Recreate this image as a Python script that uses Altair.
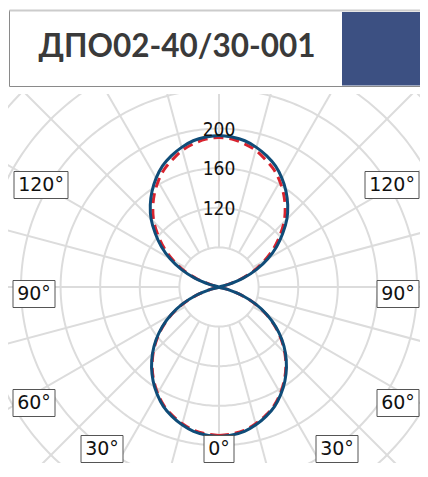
import math
import altair as alt
import pandas as pd

# ---------------- data ----------------
TITLE = "ДПО02-40/30-001"

ANGLES = list(range(0, 95, 5))  # degrees from the nadir (lower lobe) / zenith (upper lobe)
BLUE_LOWER = [191, 190, 188, 184, 179, 173, 165, 156, 146, 135, 123, 110, 96, 81, 65, 49, 33, 17, 0]
BLUE_UPPER = [193, 192, 190, 186, 181, 175, 167, 158, 148, 137, 124, 111, 97, 82, 66, 50, 34, 17, 0]
RED_LOWER = [190, 189, 187, 183, 178, 172, 164, 155, 145, 134, 122, 109, 95, 80, 64, 48, 32, 16, 0]
RED_UPPER = [191, 190, 187, 183, 177, 171, 163, 154, 144, 133, 120, 107, 93, 79, 63, 47, 31, 16, 0]

RING_VALUES = [80, 120, 160, 200, 240, 280, 320]
RING_LABELS = [120, 160, 200]
SPOKE_ANGLES = list(range(0, 360, 15))

ANGLE_LABELS = ["0°", "30°", "30°", "60°", "60°", "90°", "90°", "120°", "120°"]

# ---------------- layout (page pixels) ----------------
RADIAL_MIN = 40
PX_PER_UNIT = 0.99
CENTER_PAGE = (219, 287)
PAGE_OFFSET = 8
TITLE_H = 86
W = 412
POLAR_H = 369
LABEL_PAGE_POS = [(219, 449), (102, 449), (337, 449), (34, 403), (398, 403),
                  (34, 294), (398, 294), (41, 185), (392, 185)]


def polar_xy(value, theta_deg):
    r = max(value - RADIAL_MIN, 0) * PX_PER_UNIT
    t = math.radians(theta_deg)
    return r * math.sin(t), -r * math.cos(t)


def curve_points(lower, upper):
    pts = []
    for a, v in zip(ANGLES, lower):
        pts.append((a, v))
    for a, v in reversed(list(zip(ANGLES, upper))):
        pts.append((180 - a, v))
    full = pts + [(360 - a, v) for a, v in reversed(pts)]
    rows = []
    last = None
    for i, (a, v) in enumerate(full):
        x, y = polar_xy(v, a)
        key = (round(x, 3), round(y, 3))
        if key == last:
            continue
        last = key
        rows.append({"x": x, "y": y, "o": i})
    return pd.DataFrame(rows)


blue_df = curve_points(BLUE_LOWER, BLUE_UPPER)
red_df = curve_points(RED_LOWER, RED_UPPER)

ring_rows = []
for rv in RING_VALUES:
    for k in range(0, 361):
        x, y = polar_xy(rv, k)
        ring_rows.append({"ring": rv, "x": x, "y": y, "o": k})
ring_df = pd.DataFrame(ring_rows)

spoke_rows = []
for a in SPOKE_ANGLES:
    for j, rv in enumerate([RING_VALUES[0], 400]):
        x, y = polar_xy(rv, a)
        spoke_rows.append({"spoke": a, "x": x, "y": y, "o": j})
spoke_df = pd.DataFrame(spoke_rows)

rl_rows = []
for v in RING_LABELS:
    x, y = polar_xy(v, 180)
    rl_rows.append({"label": str(v), "x": x, "y": y})
rl_df = pd.DataFrame(rl_rows)

lab_rows = []
for txt, (px, py) in zip(ANGLE_LABELS, LABEL_PAGE_POS):
    x = px - CENTER_PAGE[0]
    y = CENTER_PAGE[1] - py
    bw = 12 * len(txt) + 6
    lab_rows.append({"label": txt, "x": x, "y": y,
                     "x0": x - bw / 2, "x1": x + bw / 2, "y0": y - 13.5, "y1": y + 13.5})
lab_df = pd.DataFrame(lab_rows)

# scales: 1 data unit = 1 px, centred on the pole
x_left = PAGE_OFFSET - CENTER_PAGE[0]
x_right = x_left + W
y_top = CENTER_PAGE[1] - (PAGE_OFFSET + TITLE_H)
y_bottom = y_top - POLAR_H
xs = alt.Scale(domain=[x_left, x_right], nice=False, zero=False)
ys = alt.Scale(domain=[y_bottom, y_top], nice=False, zero=False)
X = alt.X("x:Q", scale=xs, axis=None)
Y = alt.Y("y:Q", scale=ys, axis=None)

GRID = "#dcdcdc"

rings = alt.Chart(ring_df).mark_line(clip=True, color=GRID, strokeWidth=2).encode(
    x=X, y=Y, detail="ring:N", order="o:Q")
spokes = alt.Chart(spoke_df).mark_line(clip=True, color=GRID, strokeWidth=2).encode(
    x=X, y=Y, detail="spoke:N", order="o:Q")
red = alt.Chart(red_df).mark_line(clip=True, color="#d8232e", strokeWidth=3,
                                  strokeDash=[10, 6], interpolate="cardinal").encode(
    x=X, y=Y, order="o:Q")
blue = alt.Chart(blue_df).mark_line(clip=True, color="#0f4c78", strokeWidth=3,
                                    interpolate="cardinal").encode(
    x=X, y=Y, order="o:Q")
rlabels = alt.Chart(rl_df).mark_text(font="DejaVu Sans Condensed", fontSize=19,
                                     color="#111111", baseline="middle", dy=1).encode(
    x=X, y=Y, text="label:N")
boxes = alt.Chart(lab_df).mark_rect(fill="white", stroke="#555555", strokeWidth=1).encode(
    x=alt.X("x0:Q", scale=xs, axis=None), x2="x1:Q",
    y=alt.Y("y0:Q", scale=ys, axis=None), y2="y1:Q")
btext = alt.Chart(lab_df).mark_text(font="DejaVu Sans", fontSize=19, color="#111111",
                                    baseline="middle").encode(x=X, y=Y, text="label:N")

polar = alt.layer(rings, spokes, red, blue, rlabels, boxes, btext).properties(
    width=W, height=POLAR_H)

# ---------------- title block ----------------
tdf = pd.DataFrame({"t": [TITLE]})
tbox = alt.Chart(tdf).mark_rect(fill="white", stroke="#8a8a8a", strokeWidth=1, clip=True).encode(
    x=alt.value(1.5), x2=alt.value(W + 4), y=alt.value(2.5), y2=alt.value(78.5))
ttop = alt.Chart(tdf).mark_rule(color="#cccccc", strokeWidth=2, clip=True).encode(
    x=alt.value(1.5), x2=alt.value(W), y=alt.value(2.5))
tblue = alt.Chart(tdf).mark_rect(fill="#3c5082", clip=True).encode(
    x=alt.value(334), x2=alt.value(W), y=alt.value(4), y2=alt.value(77.5))
ttext = alt.Chart(tdf).mark_text(font="Lato", fontWeight="bold", fontSize=31.5,
                                 color="#3a3a3a", align="left", baseline="middle").encode(
    x=alt.value(30.5), y=alt.value(40), text="t:N")
title_chart = alt.layer(tbox, ttop, tblue, ttext).properties(width=W, height=TITLE_H)

chart = alt.vconcat(title_chart, polar, spacing=0).properties(
    padding=0, bounds="flush").configure_view(stroke=None)

chart.save("out.html", embed_options={"renderer": "svg", "actions": False})
